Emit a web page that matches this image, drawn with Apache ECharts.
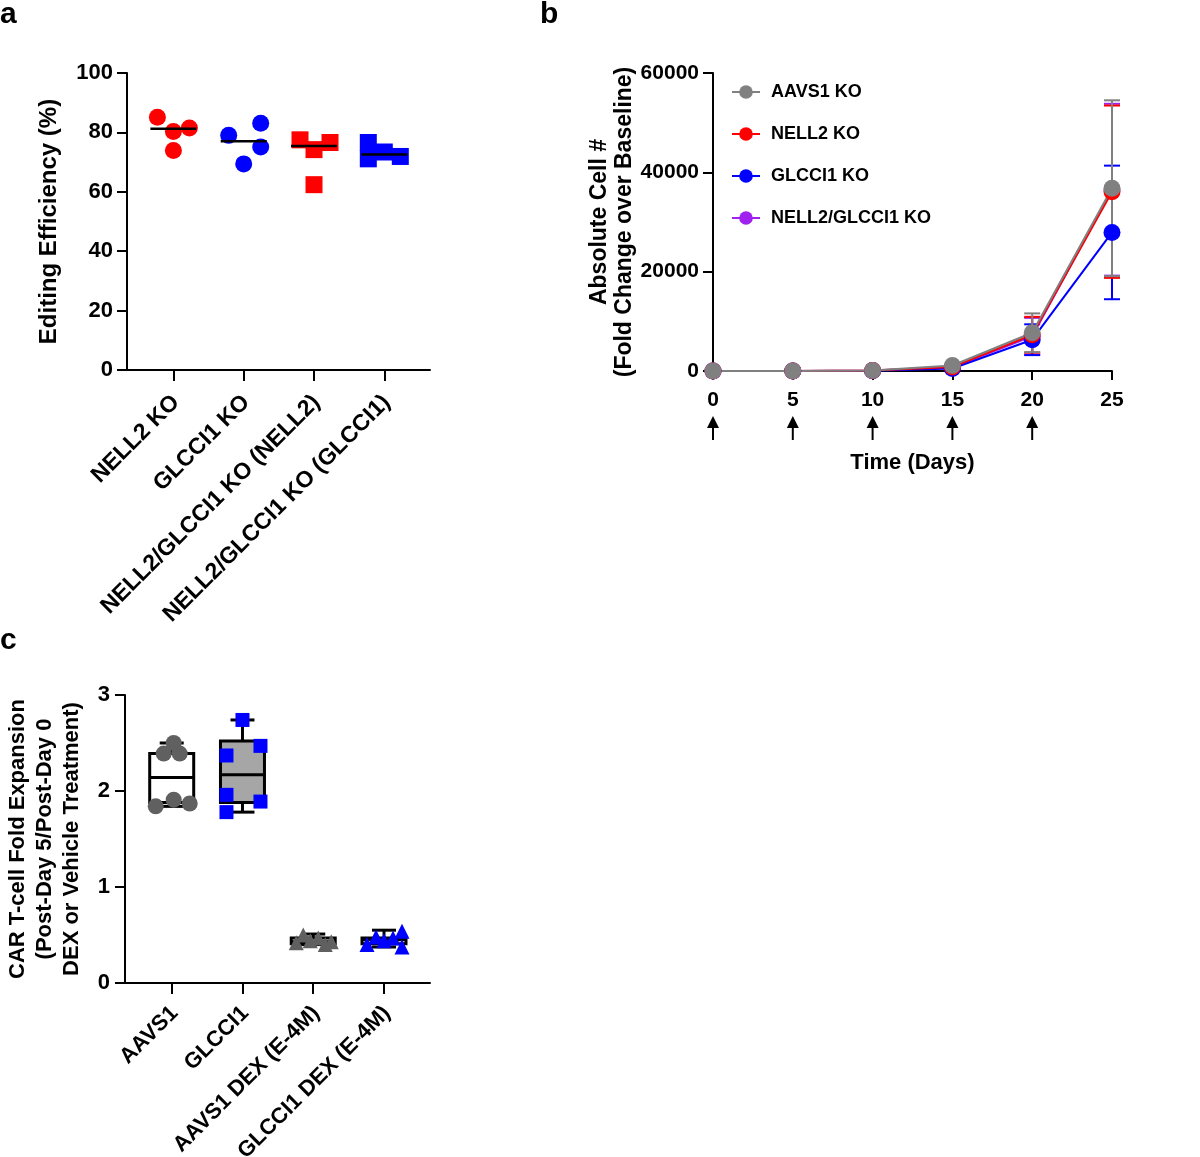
<!DOCTYPE html>
<html>
<head>
<meta charset="utf-8">
<script src="https://cdn.jsdelivr.net/npm/echarts@6.0.0/dist/echarts.min.js"></script>
<style>
html, body { margin: 0; padding: 0; background: #fff; }
#main { width: 1200px; height: 1157px; }
</style>
</head>
<body>
<div id="main"></div>
<script>
// panel a: editing efficiency (%)
var catsA = ["NELL2 KO", "GLCCI1 KO", "NELL2/GLCCI1 KO (NELL2)", "NELL2/GLCCI1 KO (GLCCI1)"];
var editNell2 = [85.1, 80.3, 81.5, 73.9];
var editGlcci1 = [79.0, 83.1, 75.1, 69.4];
var editDkoNell2 = [77.5, 76.6, 74.2, 62.4];
var editDkoGlcci1 = [76.6, 71.1, 73.4, 71.9];
var editMedians = [81.2, 77.0, 75.4, 72.6];

// panel b: absolute cell # (fold change over baseline)
var days = [0, 5, 10, 15, 20, 25];
var aavs1Mean = [1, 15, 110, 1100, 7700, 36800];
var aavs1Sd = [0, 0, 0, 0, 3900, 17700];
var nell2Mean = [1, 12, 90, 800, 7300, 36100];
var nell2Sd = [0, 0, 0, 0, 3600, 17350];
var glcci1Mean = [1, 10, 70, 500, 6300, 27900];
var glcci1Sd = [0, 0, 0, 0, 3100, 13450];
var dkoMean = [1, 12, 80, 750, 7000, 36500];
var dkoSd = [0, 0, 0, 0, 3700, 17300];
var arrowDays = [0, 5, 10, 15, 20];

// panel c: CAR T-cell fold expansion
var catsC = ["AAVS1", "GLCCI1", "AAVS1 DEX (E-4M)", "GLCCI1 DEX (E-4M)"];
// [min, Q1, median, Q3, max]
var boxStats = [
    [1.84, 1.88, 2.14, 2.39, 2.50],
    [1.78, 1.88, 2.17, 2.52, 2.74],
    [0.40, 0.41, 0.43, 0.47, 0.51],
    [0.375, 0.41, 0.45, 0.47, 0.55]
];
var expAavs1 = [2.50, 2.39, 2.39, 1.91, 1.84, 1.87];
var expGlcci1 = [2.74, 2.47, 2.37, 1.96, 1.89, 1.78];
var expAavs1Dex = [0.42, 0.50, 0.44, 0.47, 0.40, 0.43];
var expGlcci1Dex = [0.40, 0.48, 0.44, 0.47, 0.54, 0.375];

// horizontal scatter spread of the dots, in px (style only)
var jitA = [[-16, 0, 16, 0], [-15, 17, 17, 0], [-14, 16, 0, 0], [-16, -16, 0, 16]];
var jitC = [[2, -8, 8, 2, -16, 18], [0, 18, -16, -16, 18, -16], [-17, -10, -3, 5, 12, 18], [-17, -8, 0, 9, 18, 18]];
var boxFills = ["#ffffff", "#a6a6a6", "#ffffff", "#ffffff"];

var font = "'Liberation Sans', Arial, sans-serif";
var GREY = "#808080", RED = "#ff0000", BLUE = "#0000ff", PURPLE = "#a020f0", DARK = "#606060";

function axisBase(extra) {
    var o = {
        axisLine: {onZero: false, lineStyle: {color: "#000", width: 2}},
        axisTick: {length: 10, lineStyle: {color: "#000", width: 2}},
        splitLine: {show: false},
        axisLabel: {color: "#000", fontWeight: "bold", fontFamily: font, fontSize: 22, margin: 14},
        nameTextStyle: {color: "#000", fontWeight: "bold", fontFamily: font}
    };
    for (var k in extra) {
        if (typeof extra[k] === "object" && o[k] && !Array.isArray(extra[k])) {
            for (var j in extra[k]) o[k][j] = extra[k][j];
        } else {
            o[k] = extra[k];
        }
    }
    return o;
}

function dots(vals, g, jit, axis, symbol, size, color) {
    return {
        type: "scatter",
        xAxisIndex: axis, yAxisIndex: axis,
        symbol: symbol, symbolSize: size,
        itemStyle: {color: color, opacity: 1},
        silent: true,
        data: vals.map(function (v, i) {
            return {value: [g, v], symbolOffset: [jit[g][i], 0]};
        })
    };
}

function renderMedian(params, api) {
    var p = api.coord([api.value(0), api.value(1)]);
    return {
        type: "line",
        shape: {x1: p[0] - 23, y1: p[1], x2: p[0] + 23, y2: p[1]},
        style: {stroke: "#000", lineWidth: 2.5}
    };
}

function renderErr(color) {
    return function (params, api) {
        var x = api.value(0);
        var lo = api.coord([x, api.value(1)]);
        var hi = api.coord([x, api.value(2)]);
        if (Math.abs(lo[1] - hi[1]) < 2) return null;
        function st() { return {stroke: color, lineWidth: 2}; }
        return {
            type: "group",
            children: [
                {type: "line", shape: {x1: lo[0], y1: lo[1], x2: hi[0], y2: hi[1]}, style: st()},
                {type: "line", shape: {x1: lo[0] - 8, y1: lo[1], x2: lo[0] + 8, y2: lo[1]}, style: st()},
                {type: "line", shape: {x1: hi[0] - 8, y1: hi[1], x2: hi[0] + 8, y2: hi[1]}, style: st()}
            ]
        };
    };
}

function renderArrow(params, api) {
    var p = api.coord([api.value(0), api.value(1)]);
    var x = p[0], y = p[1];
    return {
        type: "group",
        children: [
            {type: "line", shape: {x1: x, y1: y + 52, x2: x, y2: y + 69}, style: {stroke: "#000", lineWidth: 2}},
            {type: "polygon", shape: {points: [[x, y + 45], [x - 6, y + 57], [x + 6, y + 57]]}, style: {fill: "#000"}}
        ]
    };
}

function renderBox(params, api) {
    var x = api.value(0);
    var lo = api.coord([x, api.value(1)]);
    var q1 = api.coord([x, api.value(2)]);
    var md = api.coord([x, api.value(3)]);
    var q3 = api.coord([x, api.value(4)]);
    var hi = api.coord([x, api.value(5)]);
    var cx = lo[0], hw = 22, cw = 12;
    function st() { return {stroke: "#000", lineWidth: 3}; }
    return {
        type: "group",
        children: [
            {type: "line", shape: {x1: cx, y1: lo[1], x2: cx, y2: hi[1]}, style: st()},
            {type: "line", shape: {x1: cx - cw, y1: lo[1], x2: cx + cw, y2: lo[1]}, style: st()},
            {type: "line", shape: {x1: cx - cw, y1: hi[1], x2: cx + cw, y2: hi[1]}, style: st()},
            {type: "rect", shape: {x: cx - hw, y: q3[1], width: hw * 2, height: q1[1] - q3[1]},
                style: {fill: boxFills[params.dataIndex], stroke: "#000", lineWidth: 3}},
            {type: "line", shape: {x1: cx - hw, y1: md[1], x2: cx + hw, y2: md[1]}, style: st()}
        ]
    };
}

function lineSeries(name, mean, color) {
    return {
        name: name,
        type: "line",
        xAxisIndex: 1, yAxisIndex: 1,
        symbol: "circle", symbolSize: 17,
        lineStyle: {color: color, width: 2},
        itemStyle: {color: color},
        silent: true,
        data: days.map(function (d, i) { return [d, mean[i]]; })
    };
}

function errSeries(name, mean, sd, color) {
    return {
        name: name,
        type: "custom",
        xAxisIndex: 1, yAxisIndex: 1,
        renderItem: renderErr(color),
        encode: {x: 0, y: [1, 2]},
        silent: true,
        z: 1,
        data: days.map(function (d, i) { return [d, mean[i] - sd[i], mean[i] + sd[i]]; })
    };
}

var labelA = function (v) { return catsA[v]; };
var labelC = function (v) { return catsC[v]; };
var plain = function (v) { return String(v); };
var letterStyle = {fontSize: 30, fontWeight: "bold", color: "#000", fontFamily: font};

var option = {
    animation: false,
    backgroundColor: "#fff",
    textStyle: {fontFamily: font},
    title: [
        {text: "a", left: 0, top: 0, padding: 0, textStyle: letterStyle},
        {text: "b", left: 540, top: 0, padding: 0, textStyle: letterStyle},
        {text: "c", left: 0, top: 626, padding: 0, textStyle: letterStyle}
    ],
    legend: {
        data: ["AAVS1 KO", "NELL2 KO", "GLCCI1 KO", "NELL2/GLCCI1 KO"],
        orient: "vertical",
        left: 726, top: 78,
        itemWidth: 28, itemHeight: 17, itemGap: 24,
        selectedMode: false,
        textStyle: {fontSize: 18, fontWeight: "bold", color: "#000", fontFamily: font, padding: [0, 0, 0, 6]}
    },
    grid: [
        {left: 127, top: 73, width: 303, height: 297, outerBoundsMode: "none"},
        {left: 713, top: 73, width: 399, height: 298, outerBoundsMode: "none"},
        {left: 125, top: 695, width: 305, height: 288, outerBoundsMode: "none"}
    ],
    xAxis: [
        axisBase({
            type: "value", gridIndex: 0, min: -0.66, max: 3.65,
            axisTick: {length: 11, customValues: [0, 1, 2, 3]},
            axisLabel: {customValues: [0, 1, 2, 3], rotate: 45, fontSize: 23, margin: 15,
                verticalAlign: "top", padding: [0, 8, 0, 0], formatter: labelA}
        }),
        axisBase({
            type: "value", gridIndex: 1, min: 0, max: 25, interval: 5,
            axisTick: {length: 9},
            axisLabel: {fontSize: 21, margin: 19},
            name: "Time (Days)", nameLocation: "middle", nameGap: 81,
            nameTextStyle: {fontSize: 22}
        }),
        axisBase({
            type: "value", gridIndex: 2, min: -0.66, max: 3.65,
            axisTick: {length: 11, customValues: [0, 1, 2, 3]},
            axisLabel: {customValues: [0, 1, 2, 3], rotate: 45, fontSize: 22, margin: 14,
                verticalAlign: "top", padding: [0, 7, 0, 0], formatter: labelC}
        })
    ],
    yAxis: [
        axisBase({
            type: "value", gridIndex: 0, min: 0, max: 100, interval: 20,
            name: "Editing Efficiency (%)", nameLocation: "middle", nameGap: 66,
            nameTextStyle: {fontSize: 24}
        }),
        axisBase({
            type: "value", gridIndex: 1, min: 0, max: 60000, interval: 20000,
            axisLabel: {fontSize: 21, margin: 14, formatter: plain},
            name: "Absolute Cell #\n(Fold Change over Baseline)", nameLocation: "middle", nameGap: 67,
            nameTextStyle: {fontSize: 23, lineHeight: 25}
        }),
        axisBase({
            type: "value", gridIndex: 2, min: 0, max: 3, interval: 1,
            axisLabel: {fontSize: 22, margin: 15},
            name: "CAR T-cell Fold Expansion\n(Post-Day 5/Post-Day 0\nDEX or Vehicle Treatment)",
            nameLocation: "middle", nameGap: 40,
            nameTextStyle: {fontSize: 22, lineHeight: 27}
        })
    ],
    series: [
        // panel a
        dots(editNell2, 0, jitA, 0, "circle", 17, RED),
        dots(editGlcci1, 1, jitA, 0, "circle", 17, BLUE),
        dots(editDkoNell2, 2, jitA, 0, "rect", 17, RED),
        dots(editDkoGlcci1, 3, jitA, 0, "rect", 17, BLUE),
        {
            type: "custom", xAxisIndex: 0, yAxisIndex: 0,
            renderItem: renderMedian, encode: {x: 0, y: 1}, silent: true, z: 5,
            data: editMedians.map(function (m, g) { return [g, m]; })
        },
        // panel b
        errSeries("err dko", dkoMean, dkoSd, PURPLE),
        errSeries("err glcci1", glcci1Mean, glcci1Sd, BLUE),
        errSeries("err nell2", nell2Mean, nell2Sd, RED),
        errSeries("err aavs1", aavs1Mean, aavs1Sd, GREY),
        lineSeries("NELL2/GLCCI1 KO", dkoMean, PURPLE),
        lineSeries("GLCCI1 KO", glcci1Mean, BLUE),
        lineSeries("NELL2 KO", nell2Mean, RED),
        lineSeries("AAVS1 KO", aavs1Mean, GREY),
        {
            type: "custom", xAxisIndex: 1, yAxisIndex: 1,
            renderItem: renderArrow, encode: {x: 0, y: 1}, silent: true, clip: false,
            data: arrowDays.map(function (d) { return [d, 0]; })
        },
        // panel c
        {
            type: "custom", xAxisIndex: 2, yAxisIndex: 2,
            renderItem: renderBox, encode: {x: 0, y: [1, 2, 3, 4, 5]}, silent: true,
            data: boxStats.map(function (s, g) { return [g].concat(s); })
        },
        dots(expAavs1, 0, jitC, 2, "circle", 16, DARK),
        dots(expGlcci1, 1, jitC, 2, "rect", 14, BLUE),
        dots(expAavs1Dex, 2, jitC, 2, "triangle", 15, DARK),
        dots(expGlcci1Dex, 3, jitC, 2, "triangle", 15, BLUE)
    ]
};

var chart = echarts.init(document.getElementById("main"));
chart.setOption(option);
</script>
</body>
</html>
